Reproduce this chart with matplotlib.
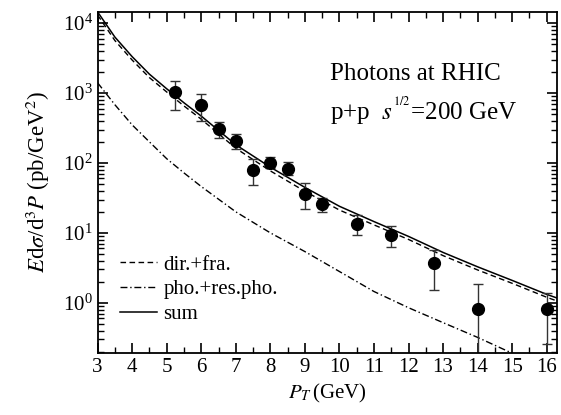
import numpy as np
import matplotlib
matplotlib.use("Agg")
import matplotlib.pyplot as plt
from matplotlib.ticker import MultipleLocator, LogLocator, NullFormatter

plt.rcParams['font.family'] = 'serif'
plt.rcParams['font.serif'] = ['Liberation Serif']
plt.rcParams['mathtext.fontset'] = 'stix'

# Data points (PHENIX p+p photons)
pt_data = [5.25, 6, 6.5, 7, 7.5, 8, 8.5, 9, 9.5, 10.5, 11.5, 12.75, 14, 16]
y_data = [1030, 670, 310, 205, 80, 101, 83, 36, 26, 13.4, 9.3, 3.65, 0.81, 0.81]
y_upper = [1500, 960, 385, 258, 113, 123, 104, 51, 32, 18, 12.5, 5.7, 1.85, 1.39]
y_lower = [570, 395, 225, 156, 49, 84, 67, 22, 19.6, 9.3, 6.2, 1.52, 0.1, 0.26]

# Theory curves
pt_curve = [3, 3.5, 4, 4.5, 5, 5.5, 6, 7, 8, 9, 10, 11, 12, 13, 14, 15, 16, 16.3]
sum_curve = [14450, 6310, 3310, 1860, 1150, 725, 468, 182, 87, 44.7, 24, 14.5,
             8.9, 5.25, 3.27, 2.09, 1.32, 1.17]
dirfra_curve = [13050, 5630, 2960, 1660, 1035, 653, 422, 162, 77, 39.3, 21.2, 13.0,
                8.05, 4.73, 2.95, 1.90, 1.20, 1.06]
pt_pho = [3, 3.5, 4, 4.5, 5, 5.5, 6, 7, 8, 9, 10, 11, 12, 13, 14, 15, 15.5]
pho_curve = [1400, 680, 350, 200, 115, 72, 46, 20, 10, 5.4, 2.8, 1.45,
             0.85, 0.52, 0.32, 0.19, 0.15]

fig = plt.figure(figsize=(5.61, 4.15), dpi=100)
ax = fig.add_axes([0.174, 0.150, 0.819, 0.820])

ax.plot(pt_curve, dirfra_curve, color='black', lw=1.0, ls=(0, (4, 2.5)), label='dir.+fra.')
ax.plot(pt_pho, pho_curve, color='black', lw=1.0, ls=(0, (5, 2, 1, 2)), label='pho.+res.pho.')
ax.plot(pt_curve, sum_curve, color='black', lw=1.1, ls='-', label='sum')

y_data = np.array(y_data)
yerr = [y_data - np.array(y_lower), np.array(y_upper) - y_data]
ax.errorbar(pt_data, y_data, yerr=yerr, fmt='o', color='black', ms=8.5,
            ecolor='#333333', elinewidth=1.0, capsize=3.5, capthick=1.0)

ax.set_yscale('log')
ax.set_xlim(3, 16.3)
ax.set_ylim(0.193, 1.42e4)

ax.xaxis.set_major_locator(MultipleLocator(1))
ax.xaxis.set_minor_locator(MultipleLocator(0.5))
ax.yaxis.set_major_locator(LogLocator(base=10, numticks=10))
ax.yaxis.set_minor_locator(LogLocator(base=10, subs=np.arange(2, 10), numticks=20))
ax.yaxis.set_minor_formatter(NullFormatter())

ax.tick_params(which='both', direction='in', top=True, right=True, labelsize=15)
ax.tick_params(which='major', length=7, width=1.2)
ax.tick_params(which='minor', length=4, width=1.0)
for s in ax.spines.values():
    s.set_linewidth(1.3)

ax.set_xlabel(r'$P_T\,$(GeV)', fontsize=15, labelpad=4)
ax.set_ylabel(r'$E$d$\sigma$/d$^3P$ (pb/GeV$^2$)', fontsize=16.5, labelpad=8)

ax.text(0.505, 0.82, 'Photons at RHIC', transform=ax.transAxes, fontsize=18,
        ha='left', va='center')
ax.text(0.505, 0.71, r'p+p  $s^{^{1/2}}$=200 GeV', transform=ax.transAxes, fontsize=18,
        ha='left', va='center')

leg = ax.legend(loc='lower left', bbox_to_anchor=(0.048, 0.084), frameon=False,
                borderaxespad=0, borderpad=0,
                fontsize=15, handlelength=1.8, handletextpad=0.3, labelspacing=0.25)

fig.savefig('out.png', dpi=100)
